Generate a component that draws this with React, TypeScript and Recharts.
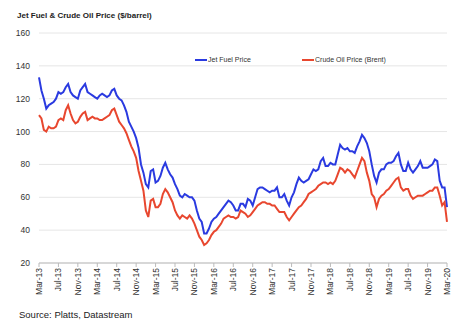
import React from 'react';
import { LineChart, Line, XAxis, YAxis, CartesianGrid } from 'recharts';

// Semi-monthly readings, Mar-2013 .. Mar-2020 ($/barrel)
const jetFuel = [
  133, 125, 120, 114, 116, 117, 118, 120, 124, 123,
  124, 127, 129, 124, 122, 121, 120, 125, 127, 129,
  124, 123, 122, 121, 120, 122, 123, 122, 121, 122,
  125, 126, 122, 120, 119, 116, 112, 106, 103, 100,
  96, 90, 80, 75, 68, 66, 76, 77, 69, 70,
  73, 78, 81, 77, 74, 72, 68, 65, 61, 60,
  62, 61, 60, 60, 58, 52, 47, 45, 38, 38,
  41, 45, 47, 48, 50, 52, 54, 56, 58, 57,
  55, 52, 52, 56, 56, 54, 59, 58, 55, 60,
  65, 66, 66, 65, 64, 63, 64, 64, 66, 60,
  60, 62, 58, 55, 60, 63, 68, 72, 70, 69,
  70, 71, 74, 77, 76, 77, 82, 84, 79, 79,
  81, 80, 80, 86, 92, 90, 89, 90, 88, 88,
  87, 91, 94, 98, 96, 93, 88, 80, 73, 69,
  75, 77, 77, 80, 81, 81, 82, 85, 87, 80,
  76, 76, 81, 77, 75, 77, 79, 82, 78, 78,
  78, 79, 80, 83, 82, 70, 66, 66, 54,
];

const brentCrude = [
  110, 108, 101, 100, 103, 102, 102, 103, 107, 108,
  107, 113, 116, 111, 107, 105, 106, 109, 111, 112,
  107, 108, 109, 108, 108, 107, 107, 108, 109, 110,
  113, 114, 110, 106, 104, 102, 99, 95, 91, 88,
  84, 76, 70, 64, 52, 48, 58, 59, 54, 54,
  56, 62, 65, 63, 60, 57, 52, 49, 47, 49,
  48, 47, 49, 47, 44, 40, 36, 34, 31, 32,
  34, 37, 39, 40, 42, 44, 47, 48, 49, 48,
  48, 47, 48, 52, 51, 50, 48, 49, 51, 53,
  55, 56, 57, 57, 56, 56, 55, 55, 53, 51,
  51, 51, 48, 46, 48, 50, 52, 54, 55, 57,
  59, 62, 63, 64, 65, 67, 68, 69, 69, 68,
  69, 68, 70, 74, 78, 77, 75, 77, 76, 74,
  72, 76, 80, 84, 82, 75, 70, 62, 60, 54,
  59, 61, 62, 64, 65, 67, 69, 71, 72, 66,
  64, 65, 65, 61, 59, 60, 61, 61, 61, 62,
  63, 64, 64, 66, 66, 61, 55, 57, 45,
];

const xTickLabels = [
  'Mar-13', 'Jul-13', 'Nov-13', 'Mar-14', 'Jul-14', 'Nov-14',
  'Mar-15', 'Jul-15', 'Nov-15', 'Mar-16', 'Jul-16', 'Nov-16',
  'Mar-17', 'Jul-17', 'Nov-17', 'Mar-18', 'Jul-18', 'Nov-18',
  'Mar-19', 'Jul-19', 'Nov-19', 'Mar-20',
];

const yTicks = [20, 40, 60, 80, 100, 120, 140, 160];

const FONT = '"Liberation Sans", Arial, sans-serif';
const BLUE = '#2a3ae0';
const RED = '#e8472f';

const xTicks = xTickLabels.map((_, i) => i * 4);

const XTick = (props: any) => {
  const { x, y, payload } = props;
  const idx = Math.round(payload.value / 4);
  return (
    <text
      x={x}
      y={y}
      transform={`rotate(-90 ${x} ${y})`}
      textAnchor="end"
      dy="0.35em"
      fontSize={8.5}
      fill="#333"
      fontFamily={FONT}
    >
      {xTickLabels[idx]}
    </text>
  );
};

export default function App() {
  const data = jetFuel.map((v, i) => ({ t: i / 2, jet: v, brent: brentCrude[i] }));
  return (
    <div
      style={{
        position: 'absolute',
        left: 0,
        top: 0,
        width: 467,
        height: 329,
        background: '#fff',
        fontFamily: FONT,
        overflow: 'hidden',
      }}
    >
      <LineChart
        width={467}
        height={329}
        data={data}
        margin={{ top: 33, right: 20, bottom: 26, left: 0 }}
        style={{ position: 'absolute', left: 0, top: 0 }}
      >
        <CartesianGrid vertical={false} stroke="#e6e6e6" />
        <XAxis
          dataKey="t"
          type="number"
          domain={[0, 84]}
          ticks={xTicks}
          interval={0}
          height={40}
          tick={<XTick />}
          tickSize={4}
          tickMargin={1}
          axisLine={{ stroke: '#bbb' }}
          tickLine={{ stroke: '#bbb' }}
        />
        <YAxis
          domain={[20, 160]}
          ticks={yTicks}
          interval={0}
          width={39}
          axisLine={false}
          tickLine={false}
          tickSize={0}
          tickMargin={9}
          tick={{ fontSize: 8.5, fill: '#333', fontFamily: FONT }}
        />
        <Line
          type="linear"
          dataKey="jet"
          stroke={BLUE}
          strokeWidth={2}
          dot={false}
          isAnimationActive={false}
        />
        <Line
          type="linear"
          dataKey="brent"
          stroke={RED}
          strokeWidth={2}
          dot={false}
          isAnimationActive={false}
        />
      </LineChart>

      <div
        style={{
          position: 'absolute',
          left: 17,
          top: 11,
          fontSize: 8,
          lineHeight: '10px',
          fontWeight: 'bold',
          color: '#222',
          whiteSpace: 'nowrap',
        }}
      >
        Jet Fuel &amp; Crude Oil Price ($/barrel)
      </div>

      <div style={{ position: 'absolute', left: 195, top: 59, width: 12, height: 2, background: BLUE }} />
      <div
        style={{
          position: 'absolute',
          left: 208,
          top: 56,
          fontSize: 7,
          lineHeight: '8px',
          color: '#333',
          whiteSpace: 'nowrap',
        }}
      >
        Jet Fuel Price
      </div>
      <div style={{ position: 'absolute', left: 302, top: 59, width: 12, height: 2, background: RED }} />
      <div
        style={{
          position: 'absolute',
          left: 315,
          top: 56,
          fontSize: 7,
          lineHeight: '8px',
          color: '#333',
          whiteSpace: 'nowrap',
        }}
      >
        Crude Oil Price (Brent)
      </div>

      <div
        style={{
          position: 'absolute',
          left: 19,
          top: 309,
          fontSize: 9.5,
          lineHeight: '11px',
          color: '#222',
          whiteSpace: 'nowrap',
        }}
      >
        Source: Platts, Datastream
      </div>
    </div>
  );
}
